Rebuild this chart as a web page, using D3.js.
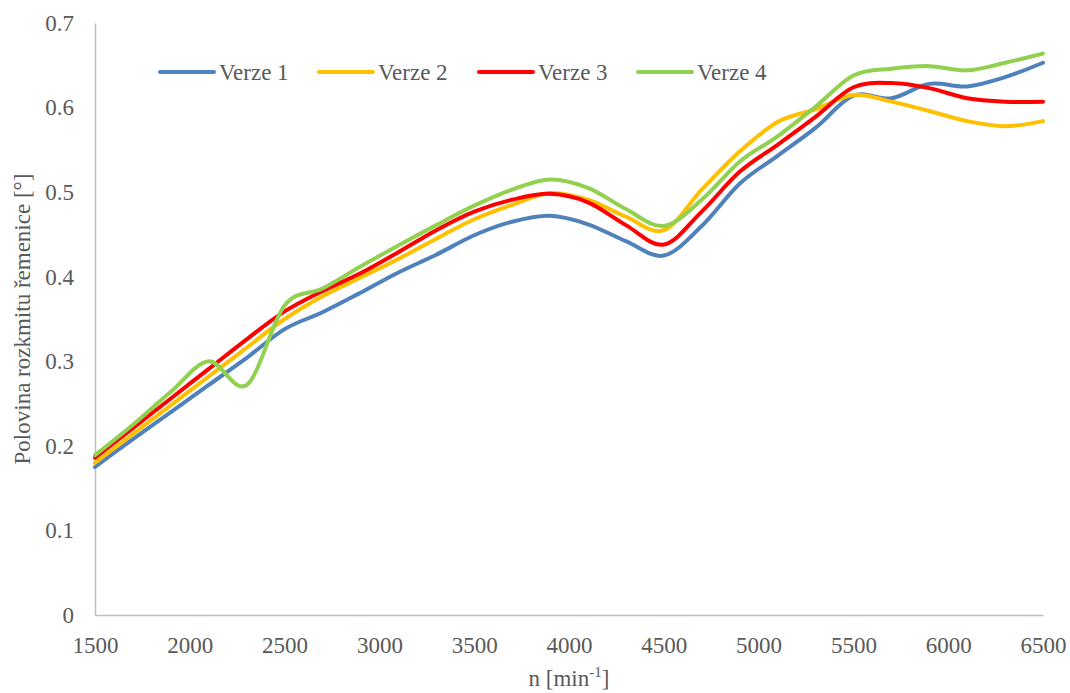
<!DOCTYPE html>
<html>
<head>
<meta charset="utf-8">
<script src="https://cdn.jsdelivr.net/npm/d3@7"></script>
<style>
  html, body { margin: 0; padding: 0; background: #fff; }
  text { font-family: "Liberation Serif", "Times New Roman", serif; fill: #595959; }
</style>
</head>
<body>
<svg id="chart" width="1070" height="693"></svg>
<script>
const rpm = [1500,1700,1900,2100,2300,2500,2700,2900,3100,3300,3500,3700,3900,4100,4300,4500,4700,4900,5100,5300,5500,5700,5900,6100,6300,6500];
const verze1 = [0.175,0.208,0.240,0.272,0.304,0.338,0.358,0.381,0.405,0.426,0.449,0.465,0.472,0.462,0.442,0.425,0.460,0.510,0.543,0.576,0.614,0.611,0.628,0.625,0.636,0.653];
const verze2 = [0.180,0.214,0.248,0.282,0.316,0.350,0.377,0.399,0.421,0.445,0.468,0.485,0.499,0.491,0.471,0.455,0.503,0.548,0.583,0.598,0.615,0.607,0.596,0.584,0.578,0.584];
const verze3 = [0.186,0.221,0.256,0.291,0.326,0.359,0.383,0.404,0.429,0.455,0.477,0.491,0.498,0.488,0.461,0.438,0.477,0.524,0.556,0.589,0.624,0.629,0.623,0.611,0.607,0.607];
const verze4 = [0.189,0.225,0.264,0.300,0.272,0.366,0.386,0.412,0.437,0.461,0.484,0.503,0.515,0.505,0.480,0.460,0.491,0.536,0.566,0.601,0.638,0.646,0.649,0.644,0.653,0.664];
const seriesNames = ["Verze 1","Verze 2","Verze 3","Verze 4"];
const seriesColors = ["#4f81bd","#ffc000","#ff0000","#92d050"];
const xTicks = [1500,2000,2500,3000,3500,4000,4500,5000,5500,6000,6500];
const yTicks = [0,0.1,0.2,0.3,0.4,0.5,0.6,0.7];

(function () {
const FONT = '"Liberation Serif", "Times New Roman", serif';
const series = [verze1, verze2, verze3, verze4];
const svg = d3.select("#chart");
const mLeft = 95, mRight = 1043, mTop = 23, mBottom = 615;

const x = d3.scaleLinear().domain([1500, 6500]).range([mLeft, mRight]);
const y = d3.scaleLinear().domain([0, 0.7]).range([mBottom, mTop]);

// axes
const xAxis = d3.axisBottom(x).tickValues(xTicks).tickSize(0).tickPadding(22).tickFormat(d3.format("d"));
const gx = svg.append("g").attr("transform", `translate(0,${mBottom})`).call(xAxis).attr("font-family", null);
gx.select(".domain").attr("stroke", "#bfbfbf").attr("stroke-width", 1.5);
gx.selectAll("text").style("font-family", FONT).style("font-size", "23px").style("fill", "#595959").attr("dy", "0.71em");

const yAxis = d3.axisLeft(y).tickValues(yTicks).tickSize(0).tickPadding(21).tickFormat(d => d === 0 ? "0" : d3.format(".1f")(d));
const gy = svg.append("g").attr("transform", `translate(${mLeft},0)`).call(yAxis).attr("font-family", null);
gy.select(".domain").attr("stroke", "#bfbfbf").attr("stroke-width", 1.5);
gy.selectAll("text").style("font-family", FONT).style("font-size", "23px").style("fill", "#595959");

// lines
const line = d3.line().x((d, i) => x(rpm[i])).y(d => y(d)).curve(d3.curveCardinal.tension(0));
series.forEach((s, k) => {
  svg.append("path").datum(s).attr("d", line)
    .attr("fill", "none").attr("stroke", seriesColors[k]).attr("stroke-width", 4)
    .attr("stroke-linejoin", "round").attr("stroke-linecap", "round");
});

// legend
const legX = [160, 319, 479, 638];
const legY = 72;
seriesNames.forEach((n, k) => {
  svg.append("line").attr("x1", legX[k]).attr("x2", legX[k] + 54).attr("y1", legY).attr("y2", legY)
    .attr("stroke", seriesColors[k]).attr("stroke-width", 4).attr("stroke-linecap", "round");
  svg.append("text").attr("x", legX[k] + 59).attr("y", legY).attr("dy", "0.35em")
    .style("font-family", FONT).style("font-size", "23px").text(n);
});

// axis titles
svg.append("text").attr("transform", `translate(30,${(mTop + mBottom) / 2}) rotate(-90)`)
  .attr("text-anchor", "middle").style("font-family", FONT).style("font-size", "23px")
  .text("Polovina rozkmitu řemenice [°]");

const xt = svg.append("text").attr("x", (mLeft + mRight) / 2).attr("y", 686)
  .attr("text-anchor", "middle").style("font-family", FONT).style("font-size", "23px");
xt.append("tspan").text("n [min");
xt.append("tspan").attr("dy", -9).style("font-size", "15px").text("-1");
xt.append("tspan").attr("dy", 9).text("]");
})();
</script>
</body>
</html>
